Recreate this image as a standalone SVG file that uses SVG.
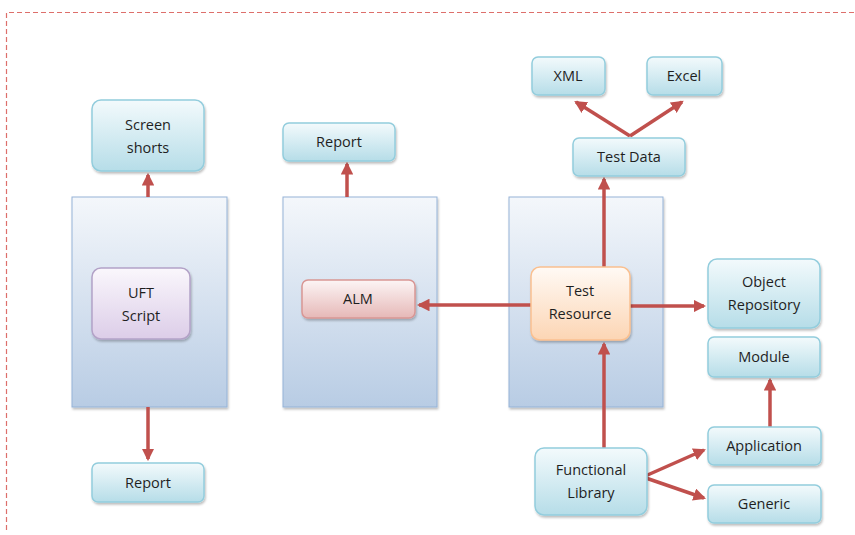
<svg xmlns="http://www.w3.org/2000/svg" width="855" height="535" viewBox="0 0 855 535">
<defs>
<linearGradient id="gCol" x1="0" y1="0" x2="0" y2="1"><stop offset="0" stop-color="#f4f7fb"/><stop offset="1" stop-color="#b8cce4"/></linearGradient>
<linearGradient id="gCyan" x1="0" y1="0" x2="0" y2="1"><stop offset="0" stop-color="#f3fafc"/><stop offset="1" stop-color="#b6dde8"/></linearGradient>
<linearGradient id="gPur" x1="0" y1="0" x2="0" y2="1"><stop offset="0" stop-color="#faf7fc"/><stop offset="1" stop-color="#dccde8"/></linearGradient>
<linearGradient id="gRed" x1="0" y1="0" x2="0" y2="1"><stop offset="0" stop-color="#fcf5f5"/><stop offset="1" stop-color="#e6b8b7"/></linearGradient>
<linearGradient id="gOra" x1="0" y1="0" x2="0" y2="1"><stop offset="0" stop-color="#fffaf5"/><stop offset="1" stop-color="#fcd5b4"/></linearGradient>
<marker id="ah" markerWidth="3.6" markerHeight="3.6" refX="3" refY="1.8" orient="auto" markerUnits="strokeWidth"><path d="M0,0 L3.6,1.8 L0,3.6 Z" fill="#c0504d"/></marker>
<filter id="sh" x="-10%" y="-10%" width="130%" height="130%"><feDropShadow dx="1" dy="2" stdDeviation="1.2" flood-color="#000" flood-opacity="0.25"/></filter>
</defs>
<style>
.col{fill:url(#gCol);stroke:#95b3d7;stroke-width:1}
.cy{fill:url(#gCyan);stroke:#93cddd;stroke-width:1.5}
.pu{fill:url(#gPur);stroke:#b3a2c7;stroke-width:1.5}
.rd{fill:url(#gRed);stroke:#d99694;stroke-width:1.5}
.or{fill:url(#gOra);stroke:#fac090;stroke-width:1.5}
text{font-family:"Open Sans","Liberation Sans",sans-serif;font-size:14.5px;fill:#1f1f1f;text-anchor:middle}
.c{stroke:#c0504d;stroke-width:3.5;fill:none;marker-end:url(#ah)}
</style>
<rect width="855" height="535" fill="#fff"/>
<path d="M6.5,530 V12.5 H855" fill="none" stroke="#dd6f6b" stroke-width="1.2" stroke-dasharray="5,3"/>
<g id="col1"><rect class="col" x="72" y="197" width="155" height="210" filter="url(#sh)"/></g>
<g id="col2"><rect class="col" x="283" y="197" width="154" height="210" filter="url(#sh)"/></g>
<g id="col3"><rect class="col" x="509" y="197" width="154" height="210" filter="url(#sh)"/></g>
<g id="connectors">
<line class="c" x1="148" y1="197" x2="148" y2="175"/>
<line class="c" x1="148" y1="407" x2="148" y2="459"/>
<line class="c" x1="347" y1="197" x2="347" y2="164"/>
<line class="c" x1="531" y1="305" x2="419" y2="305"/>
<line class="c" x1="630" y1="306" x2="704" y2="306"/>
<line class="c" x1="604" y1="267" x2="604" y2="179"/>
<line class="c" x1="630" y1="136" x2="576" y2="102"/>
<line class="c" x1="630" y1="136" x2="682" y2="102"/>
<line class="c" x1="604" y1="448" x2="604" y2="344"/>
<line class="c" x1="770" y1="427" x2="770" y2="380"/>
<line class="c" x1="643" y1="477" x2="704" y2="450"/>
<line class="c" x1="643" y1="477" x2="704" y2="498"/>
</g>
<g id="screenshots"><rect class="cy" x="92" y="100" width="112" height="71" rx="9" filter="url(#sh)"/><text x="148" y="130">Screen</text><text x="148" y="153">shorts</text></g>
<g id="uft"><rect class="pu" x="92" y="268" width="98" height="71" rx="9" filter="url(#sh)"/><text x="141" y="298">UFT</text><text x="141" y="321">Script</text></g>
<g id="report1"><rect class="cy" x="92" y="463" width="112" height="39" rx="6" filter="url(#sh)"/><text x="148" y="488">Report</text></g>
<g id="report2"><rect class="cy" x="283" y="123" width="112" height="38" rx="6" filter="url(#sh)"/><text x="339" y="147">Report</text></g>
<g id="alm"><rect class="rd" x="302" y="280" width="113" height="38" rx="6" filter="url(#sh)"/><text x="358" y="304">ALM</text></g>
<g id="testresource"><rect class="or" x="531" y="267" width="99" height="73" rx="9" filter="url(#sh)"/><text x="580" y="296">Test</text><text x="580" y="319">Resource</text></g>
<g id="testdata"><rect class="cy" x="573" y="138" width="112" height="38" rx="6" filter="url(#sh)"/><text x="629" y="162">Test Data</text></g>
<g id="xml"><rect class="cy" x="532" y="57" width="73" height="38" rx="6" filter="url(#sh)"/><text x="568" y="81">XML</text></g>
<g id="excel"><rect class="cy" x="647" y="57" width="75" height="38" rx="6" filter="url(#sh)"/><text x="684" y="81">Excel</text></g>
<g id="objrepo"><rect class="cy" x="708" y="259" width="112" height="69" rx="9" filter="url(#sh)"/><text x="764" y="287">Object</text><text x="764" y="310">Repository</text></g>
<g id="module"><rect class="cy" x="708" y="337" width="112" height="40" rx="6" filter="url(#sh)"/><text x="764" y="362">Module</text></g>
<g id="funclib"><rect class="cy" x="535" y="448" width="112" height="67" rx="9" filter="url(#sh)"/><text x="591" y="475">Functional</text><text x="591" y="498">Library</text></g>
<g id="application"><rect class="cy" x="708" y="427" width="113" height="38" rx="6" filter="url(#sh)"/><text x="764" y="451">Application</text></g>
<g id="generic"><rect class="cy" x="708" y="485" width="113" height="38" rx="6" filter="url(#sh)"/><text x="764" y="509">Generic</text></g>
</svg>
